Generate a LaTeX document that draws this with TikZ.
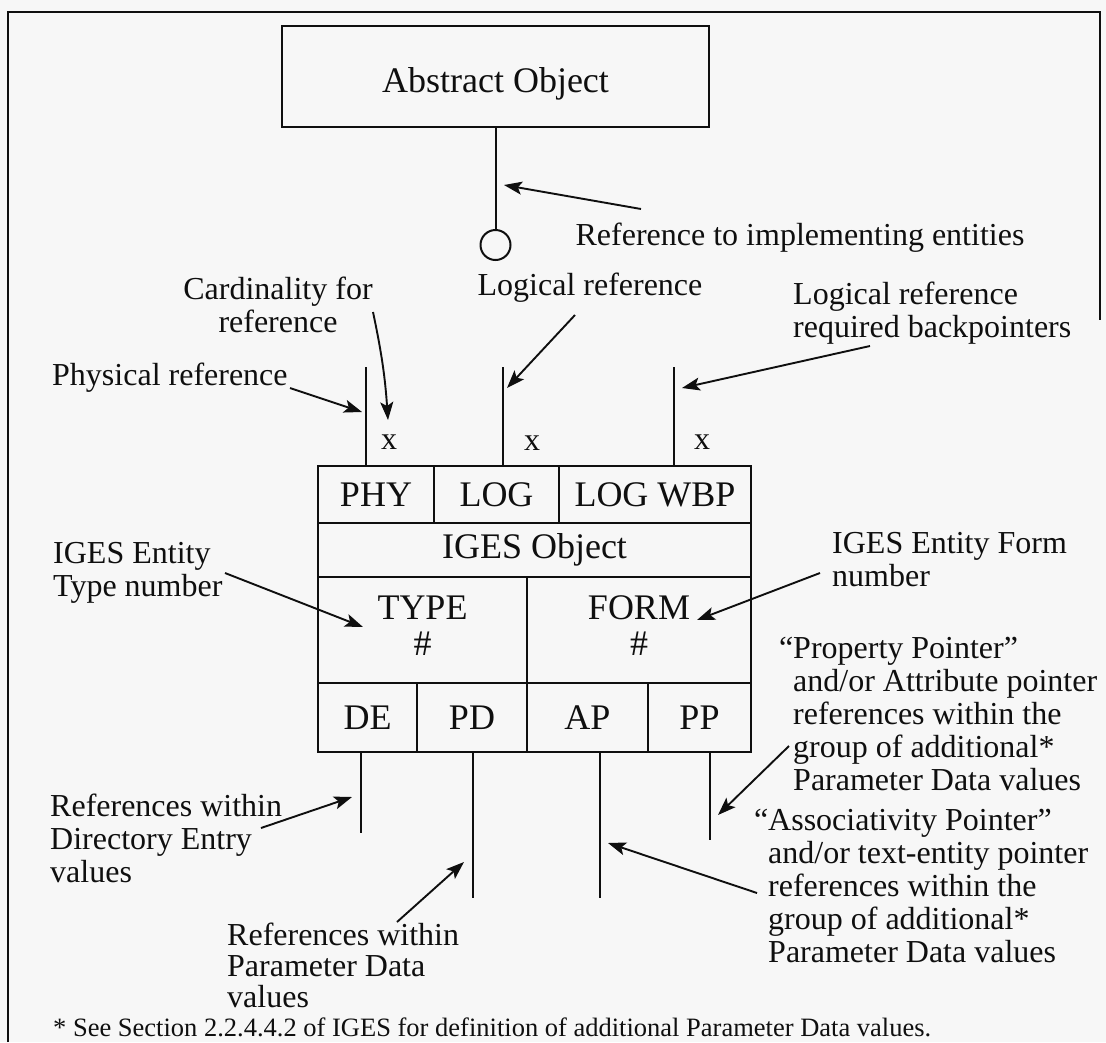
\documentclass[tikz,border=0pt]{standalone}
\usepackage{fontspec}
\setmainfont{Liberation Serif}
\usetikzlibrary{arrows.meta}
\definecolor{paper}{RGB}{247,247,247}
\definecolor{ink}{RGB}{15,15,15}
\begin{document}
\begin{tikzpicture}[x=1pt,y=-1pt,
  rule/.style={draw=ink,line width=2.3pt},
  ptr/.style={draw=ink,line width=1.9pt,-{Stealth[length=18pt,width=13pt,inset=4pt]}},
  lbl/.style={font=\fontsize{32}{33}\selectfont,inner sep=0pt,text=ink},
  cellfont/.style={font=\fontsize{36}{36}\selectfont,text=ink,inner sep=0pt},
  cellbox/.style={draw=ink,line width=2.3pt,cellfont},
]
\useasboundingbox[fill=paper] (0,0) rectangle (1106,1042);

% outer frame
\draw[rule,line width=2.4pt] (8,1042) -- (8,12) -- (1100,12) -- (1100,320);

% abstract object and its implementing-entity ring
\node[cellbox,line width=2.4pt,minimum width=427pt,minimum height=101pt,
      text height=36pt,text depth=4pt] (abs) at (495.5,76.5) {Abstract Object};
\node[circle,draw=ink,line width=2pt,minimum size=30pt,inner sep=0pt] (ring) at (495.5,245) {};
\draw[rule,line width=2pt] (abs.south) -- (ring.north);
\node[lbl] (refL) at (800,238) {Reference to implementing entities};
\coordinate (refFrom) at (641,209);
\coordinate (refTip) at (504,185);
\draw[ptr] (refFrom) -- (refTip);

% IGES object cells
\node[cellbox,minimum width=116pt,minimum height=57pt] (phy) at (376,494.5) {PHY};
\node[cellbox,minimum width=125pt,minimum height=57pt] (log) at (496.5,494.5) {LOG};
\node[cellbox,minimum width=192pt,minimum height=57pt] (wbp) at (655,494.5) {LOG WBP};
\node[cellbox,minimum width=433pt,minimum height=54pt] (obj) at (534.5,550) {IGES Object};
\node[cellbox,minimum width=209pt,minimum height=106pt] (type) at (422.5,630) {};
\node[cellbox,minimum width=224pt,minimum height=106pt] (form) at (639,630) {};
\node[cellfont,align=center,yshift=4pt] (typeT) at (type) {TYPE\\\#};
\node[cellfont,align=center,yshift=4pt] (formT) at (form) {FORM\\\#};
\node[cellbox,minimum width=99pt,minimum height=69pt] (de) at (367.5,717.5) {DE};
\node[cellbox,minimum width=110pt,minimum height=69pt] (pd) at (472,717.5) {PD};
\node[cellbox,minimum width=121pt,minimum height=69pt] (ap) at (587.5,717.5) {AP};
\node[cellbox,minimum width=103pt,minimum height=69pt] (pp) at (699.5,717.5) {PP};

% reference stubs above the object
\coordinate (phyTop) at (366,367);
\coordinate (logTop) at (503,367);
\coordinate (wbpTop) at (674,367);
\draw[rule] (phyTop) -- (phyTop |- phy.north);
\draw[rule] (logTop) -- (logTop |- log.north);
\draw[rule] (wbpTop) -- (wbpTop |- wbp.north);
\node[lbl] (xa) at (389,442) {x};
\node[lbl] (xb) at (532,443) {x};
\node[lbl] (xc) at (702,442) {x};

% reference stubs below the object
\coordinate (deEnd) at (361,833);
\coordinate (pdEnd) at (473,898);
\coordinate (apEnd) at (600,898);
\coordinate (ppEnd) at (710,840);
\draw[rule] (deEnd |- de.south) -- (deEnd);
\draw[rule] (pdEnd |- pd.south) -- (pdEnd);
\draw[rule] (apEnd |- ap.south) -- (apEnd);
\draw[rule] (ppEnd |- pp.south) -- (ppEnd);

% labels above
\node[lbl,align=center,anchor=north] (cardL) at (278,277) {Cardinality for\\reference};
\coordinate (cardFrom) at (373,312);
\coordinate (cardTip) at (388,420);
\draw[ptr] (cardFrom) to[bend left=4] (cardTip);

\node[lbl,anchor=west] (physL) at (52,378) {Physical reference};
\coordinate (physFrom) at (290,388);
\coordinate (physTip) at (362,412);
\draw[ptr] (physFrom) -- (physTip);

\node[lbl] (logL) at (590,288) {Logical reference};
\coordinate (logFrom) at (575,315);
\coordinate (logTip) at (507,388);
\draw[ptr] (logFrom) -- (logTip);

\node[lbl,align=left,anchor=north west] (wbpL) at (793,282) {Logical reference\\required backpointers};
\coordinate (wbpFrom) at (870,346);
\coordinate (wbpTip) at (682,388);
\draw[ptr] (wbpFrom) -- (wbpTip);

% labels beside
\node[lbl,align=left,anchor=north west] (typeL) at (53,542) {IGES Entity\\Type number};
\coordinate (typeFrom) at (225,573);
\coordinate (typeTip) at (363,627);
\draw[ptr] (typeFrom) -- (typeTip);

\node[lbl,align=left,anchor=north west] (formL) at (832,532) {IGES Entity Form\\number};
\coordinate (formFrom) at (820,573);
\coordinate (formTip) at (697,620);
\draw[ptr] (formFrom) -- (formTip);

\node[lbl,align=left,anchor=north west] (ppL) at (793,637)
  {\llap{“}Property Pointer”\\and/or Attribute pointer\\references within the\\group of additional*\\Parameter Data values};
\coordinate (ppFrom) at (789,746);
\coordinate (ppTip) at (718,815);
\draw[ptr] (ppFrom) -- (ppTip);

\node[lbl,align=left,anchor=north west] (apL) at (768,809)
  {\llap{“}Associativity Pointer”\\and/or text-entity pointer\\references within the\\group of additional*\\Parameter Data values};
\coordinate (apFrom) at (757,893);
\coordinate (apTip) at (608,843);
\draw[ptr] (apFrom) -- (apTip);

% labels below
\node[lbl,align=left,anchor=north west] (deL) at (50,794) {References within\\Directory Entry\\values};
\coordinate (deFrom) at (261,828);
\coordinate (deTip) at (352,797);
\draw[ptr] (deFrom) -- (deTip);

\node[lbl,font=\fontsize{32}{31}\selectfont,align=left,anchor=north west] (pdL) at (227,923) {References within\\Parameter Data\\values};
\coordinate (pdFrom) at (397,922);
\coordinate (pdTip) at (464,862);
\draw[ptr] (pdFrom) -- (pdTip);

% footnote
\node[lbl,font=\fontsize{26.5}{28}\selectfont,anchor=west] (foot) at (53,1027)
  {* See Section 2.2.4.4.2 of IGES for definition of additional Parameter Data values.};
\end{tikzpicture}
\end{document}
